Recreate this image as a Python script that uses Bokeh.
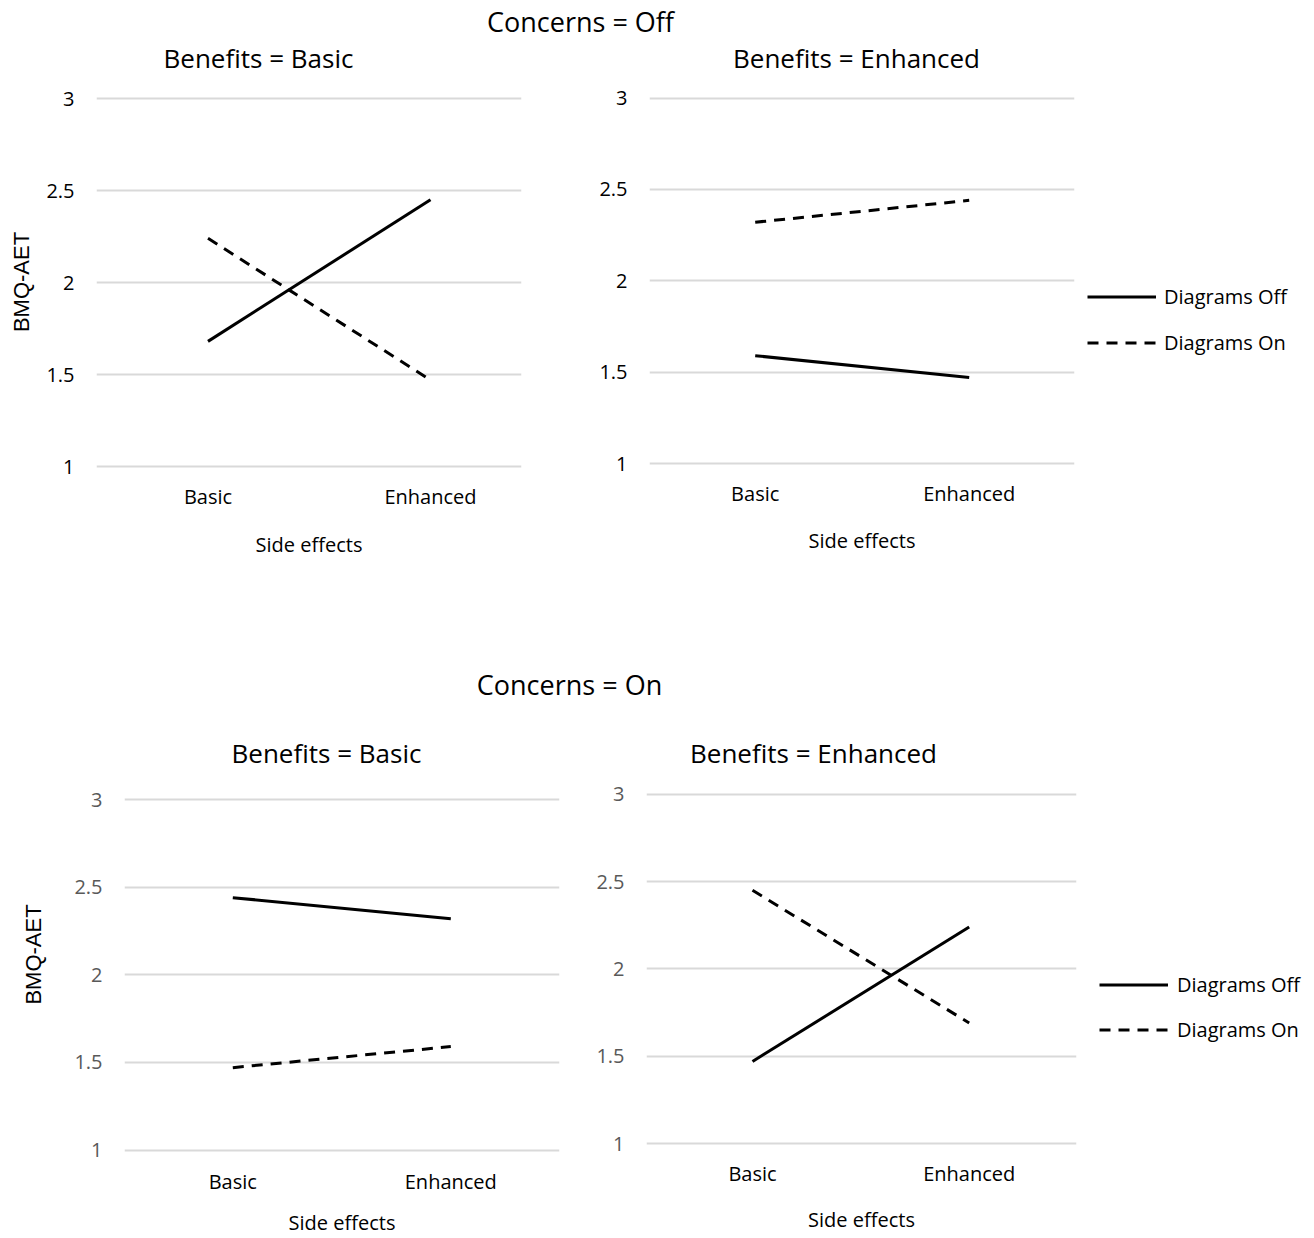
import math
from bokeh.plotting import figure
from bokeh.models import Range1d, FixedTicker, NumeralTickFormatter, Legend, LegendItem, Label
from bokeh.layouts import column, row
from bokeh.embed import file_html
from bokeh.resources import INLINE

# ---------------- data ----------------
side_effects = ["Basic", "Enhanced"]
y_ticks = [1, 1.5, 2, 2.5, 3]
series_names = ["Diagrams Off", "Diagrams On"]
y_axis_label = "BMQ-AET"
x_axis_label = "Side effects"
concerns_titles = ["Concerns = Off", "Concerns = On"]
benefit_titles = ["Benefits = Basic", "Benefits = Enhanced"]

# Concerns = Off
off_basic_diagrams_off = [1.68, 2.45]
off_basic_diagrams_on = [2.24, 1.47]
off_enhanced_diagrams_off = [1.59, 1.47]
off_enhanced_diagrams_on = [2.32, 2.44]
# Concerns = On
on_basic_diagrams_off = [2.44, 2.32]
on_basic_diagrams_on = [1.47, 1.59]
on_enhanced_diagrams_off = [1.47, 2.24]
on_enhanced_diagrams_on = [2.45, 1.69]

# ---------------- layout / style (page pixels) ----------------
FONT = "Open Sans"
PAGE_W = 1314
BASELINE_FIX = 11     # Bokeh draws the alphabetic baseline a little lower than asked
DASH = "11 8"
LINE_W = 3
GRID_COLOR = "#d9d9d9"
GRID_W = 2

ROW1 = dict(y=80, h=490, frame=(93, 470))
ROW2 = dict(y=775, h=463, frame=(789, 1154))

PANELS = {
    "tl": dict(row=ROW1, x=0, w=570, frame_x=(96, 521), x_px=(207.5, 430.0), y_px=(466.0, 98.0),
               ytick_color="#000000", ylabel=True, ylabel_standoff=9, xtick_standoff=12, xlabel_standoff=18),
    "tr": dict(row=ROW1, x=570, w=506, frame_x=(649, 1074), x_px=(754.7, 968.7), y_px=(463.0, 97.5),
               ytick_color="#000000", ylabel=False, ylabel_standoff=0, xtick_standoff=9, xlabel_standoff=17),
    "bl": dict(row=ROW2, x=60, w=515, frame_x=(124, 559), x_px=(232.3, 450.3), y_px=(1149.5, 799.0),
               ytick_color="#595959", ylabel=False, ylabel_standoff=0, xtick_standoff=13, xlabel_standoff=11),
    "br": dict(row=ROW2, x=575, w=503, frame_x=(646, 1076), x_px=(752.0, 968.7), y_px=(1143.0, 793.8),
               ytick_color="#595959", ylabel=False, ylabel_standoff=0, xtick_standoff=5, xlabel_standoff=16),
}
HEADERS = {
    "top": dict(fig=(0, 0, PAGE_W, 80),
                texts=[(concerns_titles[0], 580, 31.7, "27px"),
                       (benefit_titles[0], 258, 68, "26px"),
                       (benefit_titles[1], 856, 68, "26px")]),
    "bottom": dict(fig=(0, 570, PAGE_W, 205),
                   texts=[(concerns_titles[1], 569, 695, "27px"),
                          (benefit_titles[0], 326, 763, "26px"),
                          (benefit_titles[1], 813, 763, "26px")]),
}
LEGENDS = {
    "top": dict(row=ROW1, x=1076, w=238, glyph_x=1087, item_y=(296, 342), standoff=8),
    "bottom": dict(row=ROW2, x=1078, w=236, glyph_x=1099, item_y=(984.4, 1029.7), standoff=9),
}
SIDE_LABEL = dict(row=ROW2, x=0, w=60, baseline_x=42, center_y=954, fix=9)


def base_figure(x, w, rowcfg, frame_x, x_range, y_range):
    top, bottom = rowcfg["frame"]
    return figure(width=w, height=rowcfg["h"], x_range=x_range, y_range=y_range,
                  toolbar_location=None, output_backend="svg",
                  min_border_left=frame_x[0] - x, min_border_right=x + w - frame_x[1],
                  min_border_top=top - rowcfg["y"], min_border_bottom=rowcfg["y"] + rowcfg["h"] - bottom)


def make_panel(cfg, off_vals, on_vals):
    l, r = cfg["frame_x"]
    t, b = cfg["row"]["frame"]
    x0p, x1p = cfg["x_px"]
    y1p, y3p = cfg["y_px"]
    kx = (x1p - x0p)
    ky = (y1p - y3p) / 2.0
    xr = Range1d((l - x0p) / kx, (r - x0p) / kx)
    yr = Range1d(1 - (b - y1p) / ky, 3 + (y3p - t) / ky)
    p = base_figure(cfg["x"], cfg["w"], cfg["row"], cfg["frame_x"], xr, yr)
    p.outline_line_color = None
    p.title.visible = False

    p.xgrid.visible = False
    p.ygrid.grid_line_color = GRID_COLOR
    p.ygrid.grid_line_width = GRID_W

    xs = list(range(len(side_effects)))
    p.line(xs, off_vals, line_color="black", line_width=LINE_W)
    p.line(xs, on_vals, line_color="black", line_width=LINE_W, line_dash=DASH)

    xa = p.xaxis[0]
    xa.ticker = FixedTicker(ticks=xs)
    xa.major_label_overrides = {i: s for i, s in enumerate(side_effects)}
    xa.axis_line_color = None
    xa.major_tick_line_color = None
    xa.minor_tick_line_color = None
    xa.major_tick_out = 0
    xa.major_label_standoff = cfg["xtick_standoff"]
    xa.major_label_text_font = FONT
    xa.major_label_text_font_size = "20px"
    xa.major_label_text_color = "#000000"
    xa.axis_label = x_axis_label
    xa.axis_label_text_font = FONT
    xa.axis_label_text_font_size = "20px"
    xa.axis_label_text_font_style = "normal"
    xa.axis_label_text_color = "#000000"
    xa.axis_label_standoff = cfg["xlabel_standoff"]

    ya = p.yaxis[0]
    ya.ticker = FixedTicker(ticks=y_ticks)
    ya.formatter = NumeralTickFormatter(format="0.[0]")
    ya.axis_line_color = None
    ya.major_tick_line_color = None
    ya.minor_tick_line_color = None
    ya.major_tick_out = 0
    ya.major_label_standoff = 22
    ya.major_label_text_font = FONT
    ya.major_label_text_font_size = "20px"
    ya.major_label_text_color = cfg["ytick_color"]
    if cfg["ylabel"]:
        ya.axis_label = y_axis_label
        ya.axis_label_text_font = "Liberation Sans"
        ya.axis_label_text_font_size = "22px"
        ya.axis_label_text_font_style = "normal"
        ya.axis_label_text_color = "#000000"
        ya.axis_label_standoff = cfg["ylabel_standoff"]
    return p


def pixel_figure(x, w, rowcfg):
    """Blank figure whose data coordinates are page pixels (y grows downward)."""
    top, bottom = rowcfg["frame"]
    p = base_figure(x, w, rowcfg, (x, x + w), Range1d(x, x + w), Range1d(bottom, top))
    p.xaxis.visible = False
    p.yaxis.visible = False
    p.grid.visible = False
    p.outline_line_color = None
    p.title.visible = False
    return p


def make_header(cfg):
    fx, fy, fw, fh = cfg["fig"]
    p = pixel_figure(fx, fw, dict(y=fy, h=fh, frame=(fy, fy + fh)))
    for text, cx, baseline, size in cfg["texts"]:
        p.add_layout(Label(x=cx, y=baseline - BASELINE_FIX, text=text,
                           text_align="center", text_baseline="alphabetic",
                           text_font=FONT, text_font_size=size, text_color="#000000"))
    return p


def make_side_label(cfg):
    p = pixel_figure(cfg["x"], cfg["w"], cfg["row"])
    p.add_layout(Label(x=cfg["baseline_x"] - cfg["fix"], y=cfg["center_y"], text=y_axis_label,
                       angle=math.pi / 2, text_align="center", text_baseline="alphabetic",
                       text_font="Liberation Sans", text_font_size="22px", text_color="#000000"))
    return p


def make_legend(cfg, off_vals, on_vals):
    p = pixel_figure(cfg["x"], cfg["w"], cfg["row"])
    xs = list(range(len(side_effects)))
    # invisible twins of the panel's series: they only lend their line style to the legend
    r_off = p.line(xs, off_vals, line_color="black", line_width=LINE_W, visible=False)
    r_on = p.line(xs, on_vals, line_color="black", line_width=LINE_W, line_dash=DASH, visible=False)
    item_h = 27
    yi1, yi2 = cfg["item_y"]
    spacing = int(round((yi2 - yi1) - item_h))
    legend_bottom = yi2 + item_h / 2.0
    frame_bottom = cfg["row"]["frame"][1]
    leg = Legend(items=[LegendItem(label=series_names[0], renderers=[r_off]),
                        LegendItem(label=series_names[1], renderers=[r_on])],
                 location=(cfg["glyph_x"] - cfg["x"], frame_bottom - legend_bottom), orientation="vertical",
                 padding=0, margin=0, spacing=spacing,
                 glyph_width=69, glyph_height=item_h, label_height=item_h,
                 label_standoff=cfg["standoff"], label_text_font=FONT, label_text_font_size="20px",
                 label_text_color="#000000", inactive_fill_alpha=0,
                 border_line_color=None, background_fill_alpha=0)
    p.add_layout(leg, "center")
    return p


h_top = make_header(HEADERS["top"])
f_tl = make_panel(PANELS["tl"], off_basic_diagrams_off, off_basic_diagrams_on)
f_tr = make_panel(PANELS["tr"], off_enhanced_diagrams_off, off_enhanced_diagrams_on)
l_top = make_legend(LEGENDS["top"], off_enhanced_diagrams_off, off_enhanced_diagrams_on)
h_bot = make_header(HEADERS["bottom"])
s_bl = make_side_label(SIDE_LABEL)
f_bl = make_panel(PANELS["bl"], on_basic_diagrams_off, on_basic_diagrams_on)
f_br = make_panel(PANELS["br"], on_enhanced_diagrams_off, on_enhanced_diagrams_on)
l_bot = make_legend(LEGENDS["bottom"], on_enhanced_diagrams_off, on_enhanced_diagrams_on)

p = column(h_top, row(f_tl, f_tr, l_top), h_bot, row(s_bl, f_bl, f_br, l_bot))

open("out.html", "w").write(file_html(p, INLINE))
